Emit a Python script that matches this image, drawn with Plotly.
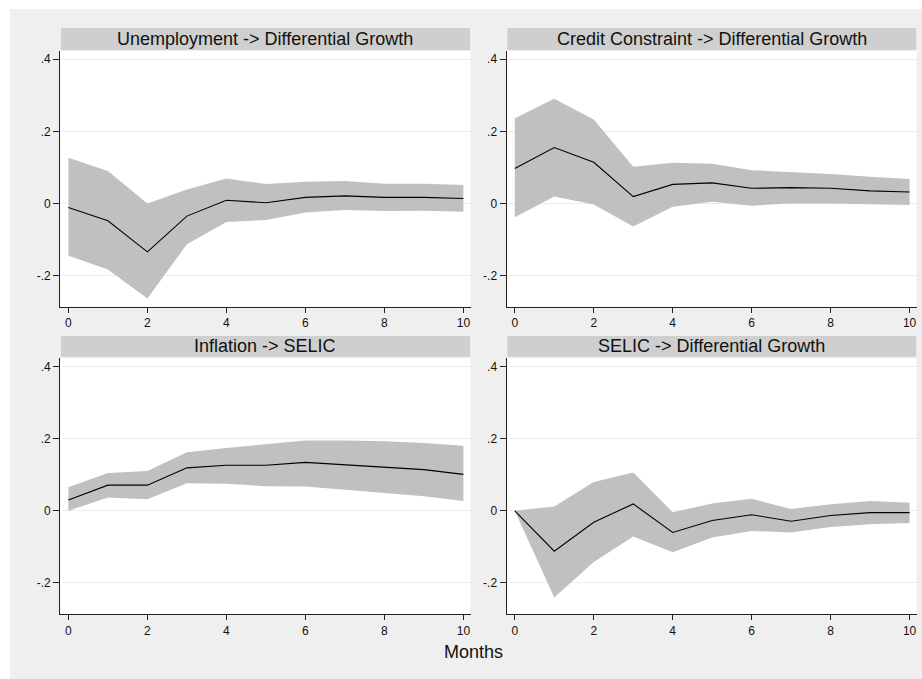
import plotly.graph_objects as go

# ---------------- data ----------------
months = [0, 1, 2, 3, 4, 5, 6, 7, 8, 9, 10]

titles = [
    "Unemployment -> Differential Growth",
    "Credit Constraint -> Differential Growth",
    "Inflation -> SELIC",
    "SELIC -> Differential Growth",
]

unemp_irf = [-0.011, -0.048, -0.134, -0.035, 0.009, 0.002, 0.017, 0.021, 0.017, 0.017, 0.014]
unemp_hi = [0.127, 0.090, 0.000, 0.039, 0.069, 0.054, 0.060, 0.062, 0.055, 0.055, 0.051]
unemp_lo = [-0.145, -0.183, -0.263, -0.113, -0.051, -0.046, -0.025, -0.018, -0.021, -0.020, -0.023]

credit_irf = [0.097, 0.155, 0.114, 0.019, 0.053, 0.057, 0.042, 0.044, 0.042, 0.035, 0.032]
credit_hi = [0.236, 0.290, 0.233, 0.102, 0.113, 0.110, 0.092, 0.088, 0.082, 0.074, 0.068]
credit_lo = [-0.038, 0.019, -0.003, -0.064, -0.009, 0.005, -0.006, 0.000, 0.000, -0.003, -0.004]

infl_irf = [0.030, 0.071, 0.071, 0.119, 0.126, 0.126, 0.134, 0.127, 0.122, 0.114, 0.101]
infl_hi = [0.065, 0.105, 0.110, 0.162, 0.174, 0.184, 0.195, 0.195, 0.193, 0.188, 0.180]
infl_lo = [0.000, 0.037, 0.032, 0.076, 0.075, 0.068, 0.067, 0.058, 0.050, 0.040, 0.027]

selic_irf = [0.000, -0.112, -0.032, 0.019, -0.060, -0.027, -0.011, -0.029, -0.013, -0.005, -0.005]
selic_hi = [0.000, 0.012, 0.080, 0.106, -0.004, 0.020, 0.033, 0.005, 0.018, 0.027, 0.022]
selic_lo = [0.000, -0.240, -0.142, -0.071, -0.115, -0.074, -0.056, -0.060, -0.045, -0.037, -0.034]

ytick_vals = [-0.2, 0, 0.2, 0.4]
ytick_text = ["-.2", "0", ".2", ".4"]
xtick_vals = [0, 2, 4, 6, 8, 10]
xtick_text = ["0", "2", "4", "6", "8", "10"]
xlabel = "Months"

panels = [
    (unemp_irf, unemp_lo, unemp_hi),
    (credit_irf, credit_lo, credit_hi),
    (infl_irf, infl_lo, infl_hi),
    (selic_irf, selic_lo, selic_hi),
]

# ---------------- layout ----------------
W, H = 922, 679
FONT = "Liberation Sans, Arial, Helvetica, sans-serif"
BG = "#efefef"
BAND = "#c0c0c0"
STRIP = "#cfcfcf"


def px(x):
    return x / W


def py(y):
    return 1 - y / H


cols = [(60.3, 470.5), (506.7, 916.7)]
rows = [(51.0, 306.7), (358.3, 614.0)]
strips = [(28.0, 50.0), (336.0, 356.7)]

fig = go.Figure()
shapes = [
    dict(type="rect", xref="paper", yref="paper", x0=px(10), x1=1.0, y0=0.0, y1=py(9),
         fillcolor=BG, line=dict(width=0), layer="below"),
]
annotations = []

for i, (irf, lo, hi) in enumerate(panels):
    r, c = divmod(i, 2)
    n = i + 1
    xa = "x" if n == 1 else f"x{n}"
    ya = "y" if n == 1 else f"y{n}"
    fig.add_trace(go.Scatter(x=months, y=lo, mode="lines", line=dict(width=0, color=BAND),
                             hoverinfo="skip", showlegend=False, xaxis=xa, yaxis=ya))
    fig.add_trace(go.Scatter(x=months, y=hi, mode="lines", line=dict(width=0, color=BAND),
                             fill="tonexty", fillcolor=BAND, showlegend=False, xaxis=xa, yaxis=ya))
    fig.add_trace(go.Scatter(x=months, y=irf, mode="lines", line=dict(width=1.1, color="#000000"),
                             showlegend=False, xaxis=xa, yaxis=ya))

    x0, x1 = cols[c]
    y0, y1 = rows[r]
    xkey = "xaxis" if n == 1 else f"xaxis{n}"
    ykey = "yaxis" if n == 1 else f"yaxis{n}"
    fig.layout[xkey] = dict(
        domain=[px(x0), px(x1)], anchor=ya, range=[-0.205, 10.18],
        tickmode="array", tickvals=xtick_vals, ticktext=xtick_text,
        ticks="outside", ticklen=5, tickwidth=1, tickcolor="#222",
        showline=True, linecolor="#222", linewidth=1.2,
        showgrid=False, zeroline=False,
        tickfont=dict(family=FONT, size=12, color="#111"),
    )
    fig.layout[ykey] = dict(
        domain=[py(y1), py(y0)], anchor=xa, range=[-0.286, 0.4225],
        tickmode="array", tickvals=ytick_vals, ticktext=ytick_text,
        ticks="outside", ticklen=6, tickwidth=1, tickcolor="#222",
        showline=True, linecolor="#222", linewidth=1.2,
        showgrid=True, gridcolor="#ececec", gridwidth=1, zeroline=False,
        tickfont=dict(family=FONT, size=12, color="#111"),
    )
    # white plot area
    shapes.append(dict(type="rect", xref="paper", yref="paper",
                       x0=px(x0), x1=px(x1), y0=py(y1), y1=py(y0),
                       fillcolor="#ffffff", line=dict(width=0), layer="below"))
    # header strip
    s0, s1 = strips[r]
    shapes.append(dict(type="rect", xref="paper", yref="paper",
                       x0=px(x0 + 0.7), x1=px(x1 - 0.5), y0=py(s1), y1=py(s0),
                       fillcolor=STRIP, line=dict(width=0), layer="below"))
    annotations.append(dict(text=titles[i], xref="paper", yref="paper",
                            x=px((x0 + x1) / 2), y=py((s0 + s1) / 2),
                            xanchor="center", yanchor="middle", showarrow=False,
                            font=dict(family=FONT, size=18, color="#111")))

annotations.append(dict(text=xlabel, xref="paper", yref="paper", x=px(473), y=py(652),
                        xanchor="center", yanchor="middle", showarrow=False,
                        font=dict(family=FONT, size=18, color="#111")))

fig.update_layout(
    width=W, height=H, margin=dict(l=0, r=0, t=0, b=0),
    paper_bgcolor="#ffffff", plot_bgcolor="rgba(0,0,0,0)",
    shapes=shapes, annotations=annotations, showlegend=False,
    font=dict(family=FONT), hovermode=False,
)

fig.write_html(
    "out.html",
    config={"displayModeBar": False, "staticPlot": True},
    post_script="document.body.style.margin='0';document.body.style.overflow='hidden';",
)
